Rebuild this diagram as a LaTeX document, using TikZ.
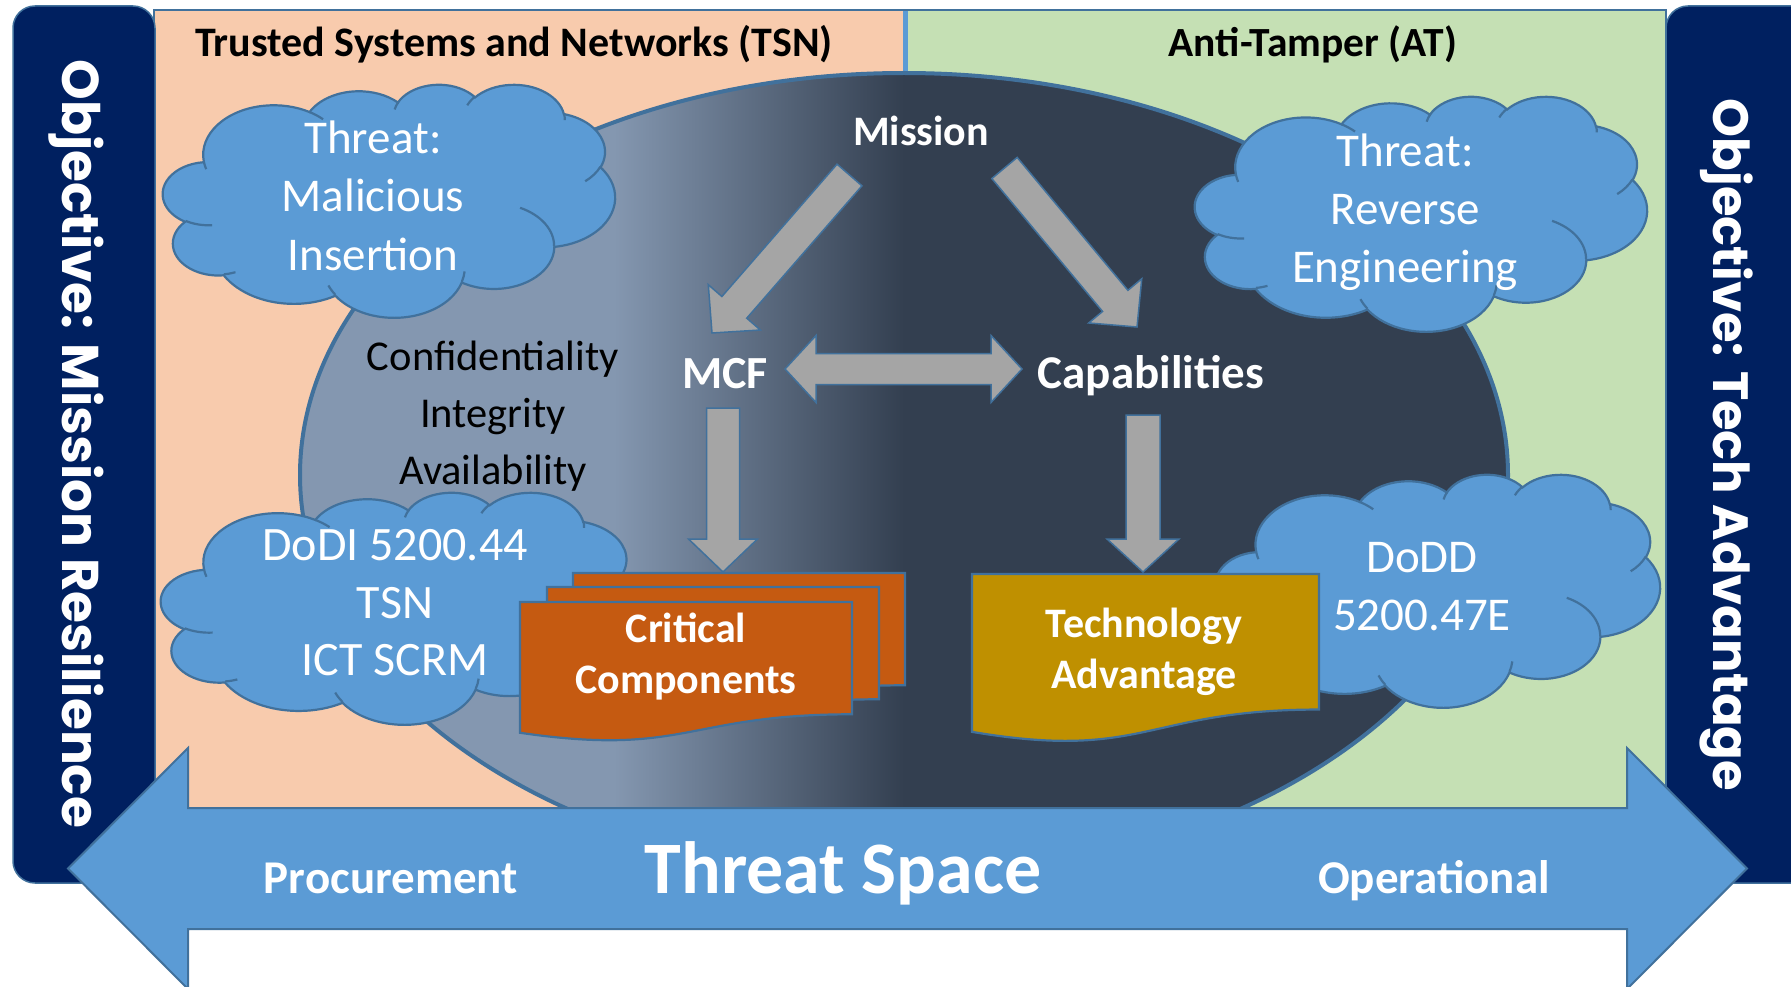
\documentclass[tikz,border=0pt]{standalone}
\usepackage{fontspec}
\setmainfont{Carlito}
\newfontfamily\barfont{Poppins}
\usepackage{graphicx}
\usetikzlibrary{calc}
\definecolor{peach}{HTML}{F8CBAD}
\definecolor{lgreen}{HTML}{C5E0B4}
\definecolor{navy}{HTML}{002060}
\definecolor{steel}{HTML}{41719C}
\definecolor{oblue}{HTML}{5B9BD5}
\definecolor{agray}{HTML}{A5A5A5}
\definecolor{orng}{HTML}{C55A11}
\definecolor{gold}{HTML}{BF9000}
\definecolor{elllight}{HTML}{8497B0}
\definecolor{elldark}{HTML}{333F50}
\pgfdeclarehorizontalshading{ellshade}{100bp}{color(0bp)=(elllight); color(38bp)=(elllight); color(50bp)=(elldark); color(100bp)=(elldark)}
\newcommand\fsz[1]{\fontsize{#1}{#1}\selectfont}
\makeatletter
\newcommand\cldcalc[5]{%
  \pgfmathsetmacro\cld@a{atan2((#2)*sin(#4),(#3)*cos(#4))}%
  \pgfmathsetmacro\cld@b{atan2((#2)*sin((#4)+(#5)),(#3)*cos((#4)+(#5)))}%
  \pgfmathsetmacro\cld@d{\cld@b-\cld@a}%
  \pgfmathsetmacro\cld@d{ifthenelse(\cld@d<0,\cld@d+360,\cld@d)}%
  \expandafter\xdef\csname cldS#1\endcsname{\cld@a}%
  \expandafter\xdef\csname cldD#1\endcsname{\cld@d}%
}
\makeatother
\cldcalc{A}{67.53}{91.90}{-190.4875}{123.7805}
\cldcalc{B}{53.33}{72.67}{-144.1024}{89.9452}
\cldcalc{C}{43.65}{59.45}{-145.8079}{99.7230}
\cldcalc{D}{48.57}{65.95}{-130.9861}{117.2417}
\cldcalc{E}{53.33}{72.73}{-78.7089}{109.0269}
\cldcalc{F}{67.75}{92.20}{-46.2673}{130.2690}
\cldcalc{G}{57.85}{78.67}{0.6250}{114.0333}
\cldcalc{H}{67.52}{92.15}{22.4516}{115.1726}
\cldcalc{I}{77.20}{105.43}{66.2426}{75.7110}
\cldcalc{J}{43.60}{59.18}{-274.9421}{146.7356}
\cldcalc{K}{43.45}{59.45}{-246.8285}{152.5189}
\cldcalc{a}{43.45}{59.45}{86.7420}{26.4295}
\cldcalc{b}{43.60}{59.18}{73.6105}{11.4475}
\cldcalc{c}{67.52}{92.15}{137.6242}{14.0811}
\cldcalc{d}{67.52}{92.15}{6.4533}{15.9984}
\cldcalc{e}{57.85}{78.67}{-70.2924}{70.9174}
\cldcalc{f}{53.33}{72.73}{30.3180}{27.7515}
\cldcalc{g}{48.57}{65.95}{-13.7443}{14.8589}
\cldcalc{h}{48.57}{65.95}{-149.1815}{18.1954}
\cldcalc{i}{43.65}{59.45}{-163.4943}{17.6872}
\cldcalc{j}{67.53}{91.90}{-66.7070}{12.3194}
\cldcalc{k}{67.53}{91.90}{157.6544}{11.8582}
\tikzset{
  cloudbody/.style={fill=oblue, draw=steel, line width=2.2pt},
  cloudline/.style={draw=steel, line width=2.2pt},
  grayarrow/.style={fill=agray, draw=steel, line width=1.5pt},
  bigarrow/.style={fill=oblue, draw=steel, line width=2pt},
  txt/.style={inner sep=0pt, anchor=base},
  cloudtxt/.style={txt, text=white, font=\fsz{47}},
  boldwhite/.style={txt, text=white, font=\bfseries\fsz{#1}},
  ciatxt/.style={txt, text=black, font=\fsz{42.5}},
  docorange/.style={fill=orng, draw=steel, line width=2.2pt},
  docgold/.style={fill=gold, draw=steel, line width=2.2pt},
  navybar/.style={fill=navy, draw=steel, line width=1.5pt, rounded corners=22pt},
}
\newcommand\officecloud[4]{%
\begin{scope}[shift={(#1,#2)}, xscale=#3/432, yscale=#4/432]
\draw[cloudbody] (39.00,143.70)
 arc[start angle=\cldSA, delta angle=\cldDA, x radius=67.53, y radius=91.90]
 arc[start angle=\cldSB, delta angle=\cldDB, x radius=53.33, y radius=72.67]
 arc[start angle=\cldSC, delta angle=\cldDC, x radius=43.65, y radius=59.45]
 arc[start angle=\cldSD, delta angle=\cldDD, x radius=48.57, y radius=65.95]
 arc[start angle=\cldSE, delta angle=\cldDE, x radius=53.33, y radius=72.73]
 arc[start angle=\cldSF, delta angle=\cldDF, x radius=67.75, y radius=92.20]
 arc[start angle=\cldSG, delta angle=\cldDG, x radius=57.85, y radius=78.67]
 arc[start angle=\cldSH, delta angle=\cldDH, x radius=67.52, y radius=92.15]
 arc[start angle=\cldSI, delta angle=\cldDI, x radius=77.20, y radius=105.43]
 arc[start angle=\cldSJ, delta angle=\cldDJ, x radius=43.60, y radius=59.18]
 arc[start angle=\cldSK, delta angle=\cldDK, x radius=43.45, y radius=59.45]
 -- cycle;
\draw[cloudline]
 (46.93,261.77) arc[start angle=\cldSa, delta angle=\cldDa, x radius=43.45, y radius=59.45]
 (69.28,348.99) arc[start angle=\cldSb, delta angle=\cldDb, x radius=43.60, y radius=59.18]
 (164.78,390.90) arc[start angle=\cldSc, delta angle=\cldDc, x radius=67.52, y radius=92.15]
 (288.27,347.51) arc[start angle=\cldSd, delta angle=\cldDd, x radius=67.52, y radius=92.15]
 (341.29,229.54) arc[start angle=\cldSe, delta angle=\cldDe, x radius=57.85, y radius=78.67]
 (417.98,153.54) arc[start angle=\cldSf, delta angle=\cldDf, x radius=53.33, y radius=72.73]
 (383.24,54.26) arc[start angle=\cldSg, delta angle=\cldDg, x radius=48.57, y radius=65.95]
 (290.78,39.52) arc[start angle=\cldSh, delta angle=\cldDh, x radius=48.57, y radius=65.95]
 (221.41,47.20) arc[start angle=\cldSi, delta angle=\cldDi, x radius=43.65, y radius=59.45]
 (140.00,51.92) arc[start angle=\cldSj, delta angle=\cldDj, x radius=67.53, y radius=91.90]
 (41.27,157.89) arc[start angle=\cldSk, delta angle=\cldDk, x radius=67.53, y radius=91.90];
\end{scope}}
\newcommand\docshape[5]{%
  \draw[#1] (#2,#3) -- ({#2+#4},#3) -- ({#2+#4},{#3+0.802*#5})
   .. controls ({#2+0.5*#4},{#3+0.802*#5}) and ({#2+0.5*#4},{#3+1.1075*#5}) .. (#2,{#3+0.934*#5}) -- cycle;}
\newcommand\blockarrow[6]{%
  \coordinate (bhB) at ($(#3)!#4pt!(#2)$);
  \draw[#1] ($(#2)!#5pt!90:(#3)$) -- ($(bhB)!#5pt!90:(#3)$) -- ($(bhB)!#6pt!90:(#3)$) -- (#3)
   -- ($(bhB)!#6pt!-90:(#3)$) -- ($(bhB)!#5pt!-90:(#3)$) -- ($(#2)!#5pt!-90:(#3)$) -- cycle;}
\newcommand\dblarrow[6]{%
  \coordinate (dhA) at ($(#2)!#4pt!(#3)$);
  \coordinate (dhB) at ($(#3)!#4pt!(#2)$);
  \draw[#1] (#2) -- ($(dhA)!#6pt!90:(#3)$) -- ($(dhA)!#5pt!90:(#3)$) -- ($(dhB)!#5pt!90:(#3)$)
   -- ($(dhB)!#6pt!90:(#3)$) -- (#3) -- ($(dhB)!#6pt!-90:(#3)$) -- ($(dhB)!#5pt!-90:(#3)$)
   -- ($(dhA)!#5pt!-90:(#3)$) -- ($(dhA)!#6pt!-90:(#3)$) -- cycle;}
\begin{document}
\begin{tikzpicture}[x=1pt, y=-1pt]
\useasboundingbox (0,0) rectangle (1791,987);
\clip (0,0) rectangle (1791,987);
\fill[white] (0,0) rectangle (1791,987);
% panels
\draw[fill=peach, draw=steel, line width=2.5pt] (154,10) rectangle (905,808);
\draw[fill=lgreen, draw=steel, line width=2.5pt] (905,10) rectangle (1666,808);
\draw[oblue, line width=5pt] (905,11) -- (905,807);
% central ellipse
\path[shading=ellshade, draw=steel, line width=4pt] (904,475) ellipse [x radius=604, y radius=402];
% clouds
\officecloud{163}{84}{452}{233}
\officecloud{1195}{96}{452}{235}
\officecloud{161}{492}{476}{232}
\officecloud{1216}{474}{444}{233}
% cloud texts
\node[cloudtxt] (c1a) at (373,154) {Threat:};
\node[cloudtxt] (c1b) at (373,212) {Malicious};
\node[cloudtxt] (c1c) at (373,270) {Insertion};
\node[cloudtxt] (c2a) at (1405,167) {Threat:};
\node[cloudtxt] (c2b) at (1405,225) {Reverse};
\node[cloudtxt] (c2c) at (1405,282) {Engineering};
\node[cloudtxt, font=\fsz{48}] (c3a) at (395,560) {DoDI 5200.44};
\node[cloudtxt, font=\fsz{48}] (c3b) at (395,618) {TSN};
\node[cloudtxt, font=\fsz{48}] (c3c) at (395,675) {ICT SCRM};
\node[cloudtxt] (c4a) at (1422,572) {DoDD};
\node[cloudtxt] (c4b) at (1422,630) {5200.47E};
% titles
\node[txt, font=\bfseries\fsz{42}] (tsn) at (514,57) {Trusted Systems and Networks (TSN)};
\node[txt, font=\bfseries\fsz{41.5}] (attitle) at (1313,57) {Anti-Tamper (AT)};
% CIA
\node[ciatxt] (conf) at (493,370) {Confidentiality};
\node[ciatxt] (integ) at (493,427) {Integrity};
\node[ciatxt] (avail) at (493,484) {Availability};
% main labels
\node[boldwhite=42] (mission) at (921,146) {Mission};
\node[boldwhite=46] (mcf) at (725,388) {MCF};
\node[boldwhite=47] (cap) at (1151,388) {Capabilities};
% gray arrows
\coordinate (misL) at (849.5,175);
\coordinate (mcfT) at (712,333);
\coordinate (misR) at (1004.5,168);
\coordinate (capT) at (1137,327);
\coordinate (mcfR) at (785,369);
\coordinate (capL) at (1022,369);
\coordinate (mcfB) at (723,408);
\coordinate (ccT) at (723,572);
\coordinate (capB) at (1143,415);
\coordinate (taT) at (1143,572);
\blockarrow{grayarrow}{misL}{mcfT}{34}{16.5}{34.5}
\blockarrow{grayarrow}{misR}{capT}{34}{16.5}{34.5}
\dblarrow{grayarrow}{mcfR}{capL}{31}{15.5}{33.5}
% documents
\docshape{docorange}{573}{573}{332}{140}
\docshape{docorange}{547}{587}{332}{140}
\docshape{docorange}{520}{602}{332}{140}
\docshape{docgold}{972}{574}{347}{169}
\blockarrow{grayarrow}{mcfB}{ccT}{33}{16.5}{34.5}
\blockarrow{grayarrow}{capB}{taT}{33}{17}{36}
\node[boldwhite=42] (crit1) at (686,642) {Critical};
\node[boldwhite=42] (crit2) at (686,693) {Components};
\node[boldwhite=42] (tech1) at (1144,637) {Technology};
\node[boldwhite=42] (tech2) at (1144,688) {Advantage};
% navy bars
\draw[navybar] (13,6) rectangle (155,883);
\draw[navybar] (1666,6) rectangle (1830,883);
\node[rotate=-90, anchor=base, text=white, inner sep=0pt] (objL) at (62,444) {\resizebox{768pt}{!}{\barfont\bfseries Objective: Mission Resilience}};
\node[rotate=-90, anchor=base, text=white, inner sep=0pt] (objR) at (1713,445) {\resizebox{692pt}{!}{\barfont\bfseries Objective: Tech Advantage}};
% threat space arrow
\coordinate (tsL) at (68,868.5);
\coordinate (tsR) at (1747,868.5);
\dblarrow{bigarrow}{tsL}{tsR}{120}{60.5}{120.5}
\node[boldwhite=47] (proc) at (391,893) {Procurement};
\node[boldwhite=74] (tspace) at (843,893) {Threat Space};
\node[boldwhite=47] (oper) at (1434,893) {Operational};
\end{tikzpicture}
\end{document}
